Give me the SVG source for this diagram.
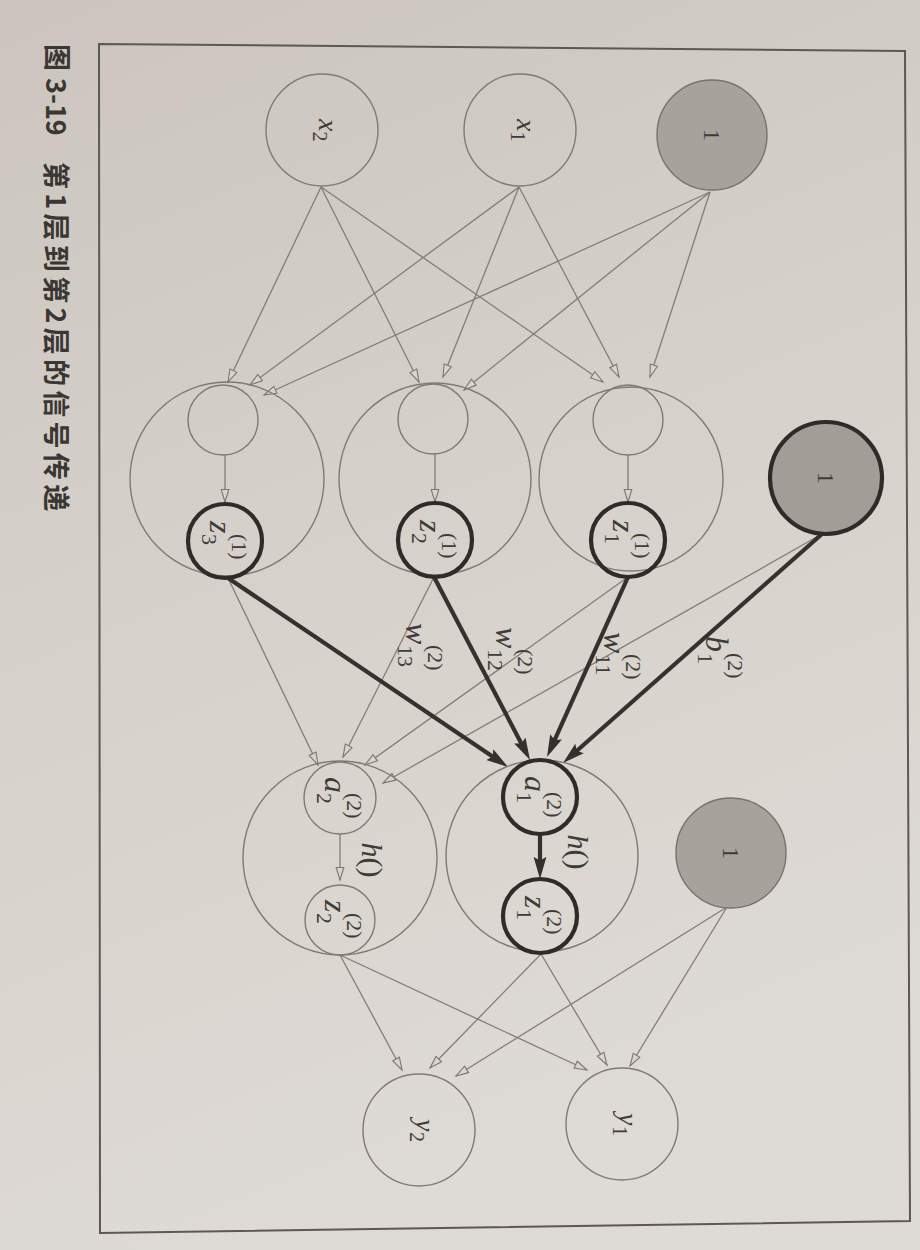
<svg xmlns="http://www.w3.org/2000/svg" width="920" height="1250" viewBox="0 0 920 1250">
<defs>
<linearGradient id="paper" x1="0" y1="0" x2="0.3" y2="1">
<stop offset="0" stop-color="#cbc5bd"/>
<stop offset="0.5" stop-color="#d6d1ca"/>
<stop offset="1" stop-color="#dedad5"/>
</linearGradient>
<marker id="ao" markerUnits="userSpaceOnUse" markerWidth="16" markerHeight="10" viewBox="0 0 16 10" refX="14" refY="5" orient="auto">
<path d="M1.5,1.2 L14,5 L1.5,8.8 Z" fill="#d9d4cd" stroke="#7c7771" stroke-width="1.1"/>
</marker>
<marker id="af" markerUnits="userSpaceOnUse" markerWidth="24" markerHeight="14" viewBox="0 0 24 14" refX="14" refY="7" orient="auto">
<path d="M0,0.6 L22,7 L0,13.4 L3.5,7 Z" fill="#34302d"/>
</marker>
<style>
.thin{fill:none;stroke:#827d77;stroke-width:1.3}
.thick{fill:none;stroke:#35312e;stroke-width:4.2}
.c{fill:none;stroke:#7f7a74;stroke-width:1.4}
.ck{fill:none;stroke:#2f2b28;stroke-width:4.2}
.bias{fill:#a7a29c;stroke:#77726d;stroke-width:1.4}
.m{font-family:"Liberation Serif","DejaVu Serif",serif;font-style:italic;fill:#3f3b38}
.r{font-family:"Liberation Serif","DejaVu Serif",serif;fill:#3f3b38}
.big{font-size:32px}
.sc{font-size:22px}
.cap{font-family:"Noto Sans CJK SC","Noto Sans",sans-serif;font-weight:700;fill:#3a3633;font-size:27px}
</style>
</defs>
<rect x="0" y="0" width="920" height="1250" fill="url(#paper)"/>
<polygon points="99,44 905,51 910,1221 100,1233" fill="none" stroke="#5d5853" stroke-width="2"/>

<g id="caption" transform="translate(58,44) rotate(90)">
<text class="cap" x="0" y="0" dominant-baseline="central">图<tspan x="34">3-19</tspan><tspan x="118" letter-spacing="4.3">第1层到第2层的信号传递</tspan></text>
</g>

<g id="connectors">
<g class="thin" marker-end="url(#ao)">
<path d="M321,187 L228,382"/>
<path d="M321,187 L419,382"/>
<path d="M321,187 L603,382"/>
<path d="M519,187 L250,385"/>
<path d="M519,187 L443,377"/>
<path d="M519,187 L619,377"/>
<path d="M710,192 L264,395"/>
<path d="M710,192 L464,390"/>
<path d="M710,192 L650,377"/>
<path d="M225,455 L225,502"/>
<path d="M435,454 L435,502"/>
<path d="M628,455 L628,502"/>
<path d="M228,578 L318,765"/>
<path d="M434,577 L343,757"/>
<path d="M628,577 L365,765"/>
<path d="M822,534 L383,783"/>
<path d="M340,834 L340,880"/>
<path d="M340,955 L402,1070"/>
<path d="M340,955 L587,1070"/>
<path d="M541,954 L430,1068"/>
<path d="M541,954 L607,1065"/>
<path d="M727,907 L456,1076"/>
<path d="M727,907 L630,1066"/>
</g>
<g class="thick" marker-end="url(#af)">
<path d="M228,578 L501.4,762.5"/>
<path d="M434,577 L526.3,752.9"/>
<path d="M628,577 L550.3,749.7"/>
<path d="M822,534 L569,757.7"/>
<path d="M540,834 L540,871"/>
</g>
</g>

<g id="bias0">
<circle class="bias" cx="712" cy="135" r="55"/>
<g transform="translate(712,135) rotate(90)"><text class="r" font-size="24" text-anchor="middle" dominant-baseline="central">1</text></g>
</g>
<g id="x1">
<circle class="c" cx="520" cy="130" r="56"/>
<g transform="translate(520,130) rotate(90)"><text class="m" x="-11" y="3.5" font-size="28">x</text><text class="r" x="1.5" y="9.5" font-size="20">1</text></g>
</g>
<g id="x2">
<circle class="c" cx="322" cy="130" r="56"/>
<g transform="translate(322,130) rotate(90)"><text class="m" x="-11" y="3.5" font-size="28">x</text><text class="r" x="1.5" y="9.5" font-size="20">2</text></g>
</g>

<g id="h1">
<circle class="c" cx="631" cy="479" r="92"/>
<circle class="c" cx="628" cy="420" r="35"/>
<circle class="ck" cx="628" cy="540" r="37"/>
<g transform="translate(628,540) rotate(90)"><text class="m big" x="-20" y="15">z</text><text class="r sc" x="-7" y="-7">(1)</text><text class="r sc" x="-7" y="23">1</text></g>
</g>
<g id="h2">
<circle class="c" cx="435" cy="479" r="96"/>
<circle class="c" cx="433" cy="419" r="35"/>
<circle class="ck" cx="435" cy="540" r="37"/>
<g transform="translate(435,540) rotate(90)"><text class="m big" x="-20" y="15">z</text><text class="r sc" x="-7" y="-7">(1)</text><text class="r sc" x="-7" y="23">2</text></g>
</g>
<g id="h3">
<circle class="c" cx="227" cy="479" r="97"/>
<circle class="c" cx="223" cy="420" r="35"/>
<circle class="ck" cx="225" cy="541" r="37"/>
<g transform="translate(225,541) rotate(90)"><text class="m big" x="-20" y="15">z</text><text class="r sc" x="-7" y="-7">(1)</text><text class="r sc" x="-7" y="23">3</text></g>
</g>
<g id="bias1">
<circle cx="826" cy="478" r="56" fill="#a29d97" stroke="#2f2b28" stroke-width="4.2"/>
<g transform="translate(826,478) rotate(90)"><text class="r" font-size="24" text-anchor="middle" dominant-baseline="central">1</text></g>
</g>

<g id="o1">
<circle class="c" cx="542" cy="856" r="96"/>
<circle class="ck" cx="540" cy="797" r="37"/>
<circle class="ck" cx="540" cy="916" r="37"/>
<g transform="translate(540,797) rotate(90)"><text class="m big" x="-21" y="15">a</text><text class="r sc" x="-5" y="-7">(2)</text><text class="r sc" x="-5" y="23">1</text></g>
<g transform="translate(540,916) rotate(90)"><text class="m big" x="-20" y="15">z</text><text class="r sc" x="-7" y="-7">(2)</text><text class="r sc" x="-7" y="23">1</text></g>
<g transform="translate(578,852) rotate(90)"><text class="m" x="-17.5" y="10" font-size="30">h</text><text class="r" x="-2.5" y="10" font-size="30">()</text></g>
</g>
<g id="o2">
<circle class="c" cx="340" cy="858" r="97"/>
<circle class="c" cx="340" cy="798" r="36"/>
<circle class="c" cx="340" cy="920" r="35"/>
<g transform="translate(340,798) rotate(90)"><text class="m big" x="-21" y="15">a</text><text class="r sc" x="-5" y="-7">(2)</text><text class="r sc" x="-5" y="23">2</text></g>
<g transform="translate(340,920) rotate(90)"><text class="m big" x="-20" y="15">z</text><text class="r sc" x="-7" y="-7">(2)</text><text class="r sc" x="-7" y="23">2</text></g>
<g transform="translate(372,860) rotate(90)"><text class="m" x="-17.5" y="10" font-size="30">h</text><text class="r" x="-2.5" y="10" font-size="30">()</text></g>
</g>
<g id="bias2">
<circle class="bias" cx="731" cy="853" r="55"/>
<g transform="translate(731,853) rotate(90)"><text class="r" font-size="24" text-anchor="middle" dominant-baseline="central">1</text></g>
</g>

<g id="y1">
<circle class="c" cx="622" cy="1124" r="56"/>
<g transform="translate(622,1124) rotate(90)"><text class="m" x="-11" y="3.5" font-size="28">y</text><text class="r" x="2" y="9.5" font-size="20">1</text></g>
</g>
<g id="y2">
<circle class="c" cx="419" cy="1130" r="56"/>
<g transform="translate(419,1130) rotate(90)"><text class="m" x="-11" y="3.5" font-size="28">y</text><text class="r" x="2" y="9.5" font-size="20">2</text></g>
</g>

<g id="labels">
<g transform="translate(721,656) rotate(90)"><text class="m big" x="-20" y="15">b</text><text class="r sc" x="-3" y="-7">(2)</text><text class="r sc" x="-3" y="23">1</text></g>
<g transform="translate(619,658) rotate(90)"><text class="m big" x="-26" y="15">w</text><text class="r sc" x="-4" y="-7">(2)</text><text class="r sc" x="-4" y="23">11</text></g>
<g transform="translate(511,653) rotate(90)"><text class="m big" x="-26" y="15">w</text><text class="r sc" x="-4" y="-7">(2)</text><text class="r sc" x="-4" y="23">12</text></g>
<g transform="translate(421,649) rotate(90)"><text class="m big" x="-26" y="15">w</text><text class="r sc" x="-4" y="-7">(2)</text><text class="r sc" x="-4" y="23">13</text></g>
</g>
</svg>
